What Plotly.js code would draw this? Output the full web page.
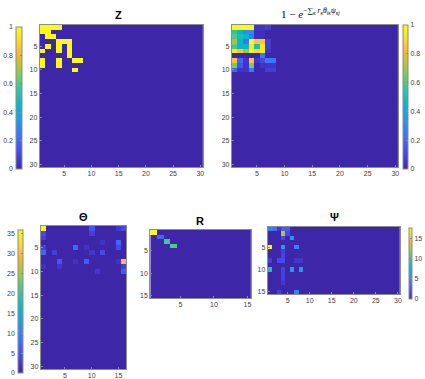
<!DOCTYPE html>
<html>
<head>
<meta charset="utf-8">
<script src="https://cdn.plot.ly/plotly-3.0.1.min.js"></script>
<style>
  html, body { margin: 0; padding: 0; background: #fff; }
  #chart { width: 425px; height: 379px; }
</style>
</head>
<body>
<div id="chart"></div>
<script>
// sparse cell lists: [row, col, value], everything else is 0
var zCells = [[1,1,1],[1,2,1],[1,3,1],[1,4,1],[2,1,1],[2,2,1],[3,2,1],[3,3,1],
  [4,4,1],[4,5,1],[4,6,1],[5,2,1],[5,4,1],[5,6,1],[6,1,1],[6,4,1],[6,6,1],
  [7,6,1],[8,1,1],[8,4,1],[8,7,1],[8,8,1],[9,1,1],[9,4,1],[10,7,1]];

var pCells = [
  [1,1,1],[1,2,1],[1,3,1],[1,4,1],[1,5,0.05],[1,6,0.05],[1,7,0.08],
  [2,1,0.55],[2,2,0.45],[2,3,0.3],[2,4,0.3],[2,5,0.03],[2,6,0.03],
  [3,1,0.6],[3,2,0.5],[3,3,0.45],[3,4,0.25],[3,5,0.03],[3,6,0.03],
  [4,1,0.7],[4,2,0.45],[4,3,0.25],[4,4,1],[4,5,0.85],[4,6,0.85],[4,7,0.08],
  [5,1,0.6],[5,2,0.45],[5,3,0.45],[5,4,0.95],[5,5,0.5],[5,6,0.95],[5,7,0.08],
  [6,1,0.95],[6,2,0.85],[6,3,0.7],[6,4,1],[6,5,0.9],[6,6,0.95],[6,7,0.05],
  [7,6,0.25],
  [8,1,0.85],[8,2,0.2],[8,3,0.05],[8,4,0.85],[8,5,0.05],[8,6,0.1],[8,7,0.25],[8,8,0.25],
  [9,1,0.65],[9,2,0.15],[9,3,0.05],[9,4,0.65],[9,6,0.05],[9,7,0.05],[9,8,0.05],
  [10,1,0.2],[10,2,0.05],[10,3,0.05],[10,4,0.25],[10,7,0.08],[10,8,0.08]];

var thetaCells = [[1,1,36],[2,1,4],[3,1,3],[1,10,5],[2,10,3],[1,15,2],[1,16,4],
  [4,12,1.5],[4,15,7],[5,15,4],[5,1,3],[6,1,7],[6,3,3],[5,7,7],[5,9,1.5],
  [6,10,2],[6,12,4],[8,4,5],[9,4,2],[8,7,1.5],[8,9,6],[8,15,1.5],[8,16,30],
  [9,1,1.5],[9,16,3],[10,16,6],[10,11,2]];

var rCells = [[1,1,1],[2,2,0.2],[3,3,0.58],[4,4,0.6]];

var psiCells = [[1,1,5],[1,2,4],[1,3,1],[1,4,3],[1,5,3],[2,4,13],[2,5,2],
  [3,4,2],[3,6,6],[5,1,17.7],[5,4,6],[5,7,5],[6,4,1.5],[7,4,1.5],
  [8,1,1.5],[8,3,2],[8,4,2],[8,7,1],[8,8,1],[10,1,9],[10,4,1.5],[10,6,6],
  [10,8,6],[11,4,1.5],[12,4,1.5],[13,4,1],[15,3,1.5],[15,7,5]];

var ticks30 = [5, 10, 15, 20, 25, 30];
var ticks15 = [5, 10, 15];
var cbTicks01 = [0, 0.2, 0.4, 0.6, 0.8, 1];
var cbTicksTheta = [0, 5, 10, 15, 20, 25, 30, 35];
var cbTicksPsi = [0, 5, 10, 15];

function grid(nr, nc, cells) {
  var m = [];
  for (var i = 0; i < nr; i++) m.push(new Array(nc).fill(0));
  cells.forEach(function (c) { m[c[0] - 1][c[1] - 1] = c[2]; });
  return m;
}

var parula = [
  [0, 'rgb(62,38,168)'],
  [0.111, 'rgb(71,71,235)'],
  [0.222, 'rgb(62,111,255)'],
  [0.333, 'rgb(39,150,235)'],
  [0.444, 'rgb(8,181,208)'],
  [0.556, 'rgb(49,198,159)'],
  [0.667, 'rgb(129,204,89)'],
  [0.730, 'rgb(185,196,49)'],
  [0.778, 'rgb(220,189,41)'],
  [0.841, 'rgb(254,190,60)'],
  [0.889, 'rgb(250,214,45)'],
  [1, 'rgb(249,251,21)']
];

var W = 425, H = 379;
function px(a, b) { return [a / W, b / W]; }
function py(top, bottom) { return [1 - bottom / H, 1 - top / H]; }

var tf = {family: 'Liberation Sans, Arial, sans-serif', size: 7, color: '#404040'};

function xax(dom, anchor, tv, nc) {
  return {domain: dom, anchor: anchor, range: [0.5, nc + 0.5], tickvals: tv,
    showline: true, mirror: true, linecolor: '#8c8c8c', linewidth: 1,
    ticks: 'inside', ticklen: 2, tickcolor: '#8c8c8c', showgrid: false,
    zeroline: false, tickfont: tf};
}
function yax(dom, anchor, tv, nr) {
  return {domain: dom, anchor: anchor, range: [nr + 0.5, 0.5], tickvals: tv,
    showline: true, mirror: true, linecolor: '#8c8c8c', linewidth: 1,
    ticks: 'inside', ticklen: 2, tickcolor: '#8c8c8c', showgrid: false,
    zeroline: false, tickfont: tf};
}
function cb(x0, x1, top, bottom, tv, labels) {
  return {x: x0 / W, xanchor: 'left', xpad: 0, ypad: 0, thickness: x1 - x0,
    thicknessmode: 'pixels', len: (bottom - top) / H, lenmode: 'fraction',
    y: 1 - (top + bottom) / 2 / H, yanchor: 'middle',
    outlinewidth: 1, outlinecolor: '#8c8c8c',
    tickvals: tv, ticks: 'inside', ticklen: 2, tickcolor: '#8c8c8c',
    showticklabels: labels, tickfont: tf};
}

function heat(z, xa, ya, zmax, scale) {
  return {type: 'heatmap', z: z, x0: 1, dx: 1, y0: 1, dy: 1, xaxis: xa, yaxis: ya,
    colorscale: parula, zmin: 0, zmax: zmax, zsmooth: false, hoverinfo: 'z',
    showscale: !!scale, colorbar: scale};
}

var data = [
  heat(grid(30, 30, zCells), 'x', 'y', 1, cb(16, 22, 27, 169, cbTicks01, false)),
  heat(grid(30, 30, pCells), 'x2', 'y2', 1, cb(405, 410, 25, 169, cbTicks01, true)),
  heat(grid(30, 16, thetaCells), 'x3', 'y3', 36, cb(18, 23, 230, 373, cbTicksTheta, false)),
  heat(grid(15, 15, rCells), 'x4', 'y4', 1, null),
  heat(grid(15, 30, psiCells), 'x5', 'y5', 17.7, cb(411, 414, 228, 299, cbTicksPsi, true)),
  // empty traces carrying the left-hand colorbar labels
  {type: 'scatter', x: [], y: [], xaxis: 'x6', yaxis: 'y6', hoverinfo: 'skip'},
  {type: 'scatter', x: [], y: [], xaxis: 'x7', yaxis: 'y7', hoverinfo: 'skip'}
];

function labelAxis(dom, anchor, range, tv) {
  return {domain: dom, anchor: anchor, range: range, tickvals: tv, side: 'left',
    showline: false, showgrid: false, zeroline: false, ticks: '', tickfont: tf,
    ticklabelstandoff: 2, fixedrange: true};
}
function hiddenX(dom) {
  return {domain: dom, visible: false, fixedrange: true};
}

var layout = {
  width: W, height: H,
  margin: {l: 0, r: 0, t: 0, b: 0},
  paper_bgcolor: '#fff', plot_bgcolor: '#fff',
  showlegend: false,
  font: tf,
  xaxis: xax(px(40, 204), 'y', ticks30, 30),
  yaxis: yax(py(25, 167), 'x', ticks30, 30),
  xaxis2: xax(px(233, 400), 'y2', ticks30, 30),
  yaxis2: yax(py(25, 167), 'x2', ticks30, 30),
  xaxis3: xax(px(41, 127), 'y3', ticks15, 16),
  yaxis3: yax(py(226, 369), 'x3', ticks30, 30),
  xaxis4: xax(px(151, 252), 'y4', ticks15, 15),
  yaxis4: yax(py(230, 298), 'x4', ticks15, 15),
  xaxis5: xax(px(269, 402), 'y5', ticks30, 30),
  yaxis5: yax(py(227, 294), 'x5', ticks15, 15),
  xaxis6: hiddenX(px(16, 22)),
  yaxis6: labelAxis(py(27, 169), 'x6', [0, 1], cbTicks01),
  xaxis7: hiddenX(px(18, 23)),
  yaxis7: labelAxis(py(230, 373), 'x7', [0, 36], cbTicksTheta),
  annotations: [
    {text: '<b>Z</b>', x: 119 / W, y: 1 - 15 / H},
    {text: '1 − <i>e</i><sup>−∑<sub><i>κ</i></sub> <i>r</i><sub><i>κ</i></sub><i>θ</i><sub><i>iκ</i></sub><i>ψ</i><sub><i>κj</i></sub></sup>',
      x: 312 / W, y: 1 - 13 / H,
      font: {family: 'Liberation Serif, DejaVu Serif, serif', size: 11, color: '#000'}},
    {text: '<b>Θ</b>', x: 83.5 / W, y: 1 - 217 / H},
    {text: '<b>R</b>', x: 201 / W, y: 1 - 221 / H},
    {text: '<b>Ψ</b>', x: 336 / W, y: 1 - 217 / H}
  ].map(function (a) {
    return Object.assign({xref: 'paper', yref: 'paper', showarrow: false,
      xanchor: 'center', yanchor: 'middle',
      font: {family: 'Liberation Sans, Arial, sans-serif', size: 11, color: '#000'}}, a);
  })
};

Plotly.newPlot('chart', data, layout, {staticPlot: true, displayModeBar: false});
</script>
</body>
</html>
